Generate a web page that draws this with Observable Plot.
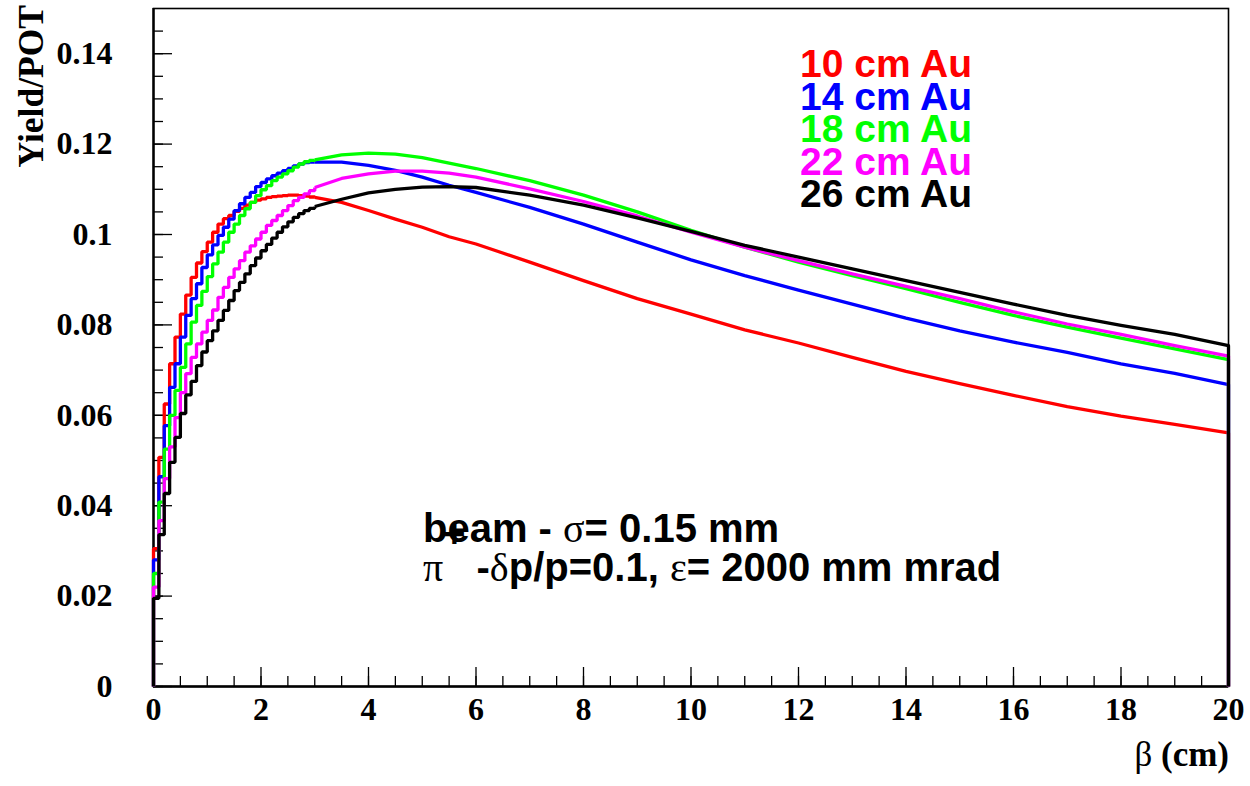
<!DOCTYPE html>
<html>
<head>
<meta charset="utf-8">
<script src="https://cdn.jsdelivr.net/npm/d3@7"></script>
<script src="https://cdn.jsdelivr.net/npm/@observablehq/plot@0.6"></script>
<style>
  html, body { margin: 0; padding: 0; background: #fff; }
  #chart { width: 1250px; height: 786px; }
</style>
</head>
<body>
<div id="chart"></div>
<script>
// ---------------- data ----------------
const seriesNames = ["10 cm Au", "14 cm Au", "18 cm Au", "22 cm Au", "26 cm Au"];
const seriesColors = ["#ff0000", "#0000ff", "#00ff00", "#ff00ff", "#000000"];

// histogram bin width (cm) for the fine-binned rising part
const binWidth = 0.1;

// bin contents, bins 0..29 (β = 0 .. 3 cm)
const red_bins = [0.0305, 0.0507, 0.0625, 0.0714, 0.0773, 0.0824, 0.0866, 0.0905, 0.0937, 0.0962,
                  0.0983, 0.1005, 0.1023, 0.1035, 0.1042, 0.1051, 0.1058, 0.1065, 0.1071, 0.1076,
                  0.1079, 0.1082, 0.1084, 0.1085, 0.1086, 0.1087, 0.1087, 0.1086, 0.1085, 0.1083];
const blue_bins = [0.0280, 0.0464, 0.0577, 0.0662, 0.0714, 0.0773, 0.0821, 0.0858, 0.0891, 0.0927,
                   0.0955, 0.0977, 0.0998, 0.1016, 0.1034, 0.1053, 0.1068, 0.1082, 0.1093, 0.1106,
                   0.1115, 0.1123, 0.1130, 0.1136, 0.1141, 0.1146, 0.1152, 0.1156, 0.1159, 0.1160];
const green_bins = [0.0250, 0.0408, 0.0525, 0.0600, 0.0655, 0.0706, 0.0758, 0.0806, 0.0843, 0.0874,
                    0.0907, 0.0935, 0.0961, 0.0983, 0.1005, 0.1023, 0.1042, 0.1057, 0.1071, 0.1086,
                    0.1099, 0.1108, 0.1119, 0.1127, 0.1134, 0.1141, 0.1149, 0.1156, 0.1161, 0.1164];
const magenta_bins = [0.0220, 0.0367, 0.0460, 0.0530, 0.0595, 0.0650, 0.0692, 0.0728, 0.0758, 0.0784,
                      0.0810, 0.0833, 0.0861, 0.0883, 0.0905, 0.0924, 0.0942, 0.0961, 0.0975, 0.0990,
                      0.1005, 0.1020, 0.1031, 0.1042, 0.1053, 0.1064, 0.1075, 0.1082, 0.1090, 0.1097];
const black_bins = [0.0195, 0.0336, 0.0427, 0.0496, 0.0551, 0.0604, 0.0645, 0.0675, 0.0710, 0.0740,
                    0.0765, 0.0787, 0.0810, 0.0832, 0.0854, 0.0876, 0.0894, 0.0913, 0.0931, 0.0948,
                    0.0964, 0.0978, 0.0992, 0.1005, 0.1017, 0.1028, 0.1038, 0.1046, 0.1053, 0.1058];

// smooth tail sampled at these β values (cm)
const tailBeta = [3, 3.5, 4, 4.5, 5, 5.5, 6, 7, 8, 9, 10, 11, 12, 13, 14, 15, 16, 17, 18, 19, 20];
const red_tail     = [0.1082, 0.1071, 0.1053, 0.1034, 0.1016, 0.0995, 0.0979, 0.0939, 0.0898, 0.0858, 0.0824,
                      0.0789, 0.0760, 0.0728, 0.0697, 0.0670, 0.0644, 0.0619, 0.0598, 0.0580, 0.0561];
const blue_tail    = [0.1160, 0.1160, 0.1153, 0.1142, 0.1127, 0.1109, 0.1093, 0.1060, 0.1023, 0.0983, 0.0944,
                      0.0909, 0.0877, 0.0846, 0.0815, 0.0787, 0.0762, 0.0739, 0.0714, 0.0693, 0.0668];
const green_tail   = [0.1165, 0.1176, 0.1180, 0.1178, 0.1170, 0.1158, 0.1146, 0.1119, 0.1087, 0.1050, 0.1009,
                      0.0972, 0.0939, 0.0909, 0.0880, 0.0850, 0.0821, 0.0795, 0.0771, 0.0747, 0.0723];
const magenta_tail = [0.1104, 0.1124, 0.1134, 0.1140, 0.1140, 0.1136, 0.1127, 0.1101, 0.1073, 0.1041, 0.1005,
                      0.0972, 0.0942, 0.0913, 0.0885, 0.0858, 0.0829, 0.0802, 0.0779, 0.0754, 0.0731];
const black_tail   = [0.1062, 0.1078, 0.1092, 0.1100, 0.1105, 0.1106, 0.1104, 0.1087, 0.1065, 0.1037, 0.1007,
                      0.0976, 0.0950, 0.0924, 0.0898, 0.0872, 0.0846, 0.0821, 0.0799, 0.0779, 0.0754];

const allBins = [red_bins, blue_bins, green_bins, magenta_bins, black_bins];
const allTails = [red_tail, blue_tail, green_tail, magenta_tail, black_tail];

// axes
const xDomain = [0, 20];
const yDomain = [0, 0.15];
const xTickValues = [0, 2, 4, 6, 8, 10, 12, 14, 16, 18, 20];
const xTickLabels = ["0", "2", "4", "6", "8", "10", "12", "14", "16", "18", "20"];
const yTickValues = [0, 0.02, 0.04, 0.06, 0.08, 0.1, 0.12, 0.14];
const yTickLabels = ["0", "0.02", "0.04", "0.06", "0.08", "0.1", "0.12", "0.14"];
const xMinorStep = 0.5;
const yMinorStep = 0.005;
const xTitle = "(cm)";
const yTitle = "Yield/POT";

// ---------------- build ----------------
const xMinor = d3.range(xDomain[0], xDomain[1] + 1e-9, xMinorStep);
const yMinor = d3.range(yDomain[0], yDomain[1] - 1e-9, yMinorStep);

const stepData = [], tailData = [];
seriesNames.forEach((name, s) => {
  stepData.push({s, x: xDomain[0], y: 0});
  allBins[s].forEach((v, i) => stepData.push({s, x: xDomain[0] + i * binWidth, y: v}));
  stepData.push({s, x: tailBeta[0], y: allTails[s][0]});
  allTails[s].forEach((v, i) => tailData.push({s, x: tailBeta[i], y: v}));
  tailData.push({s, x: xDomain[1], y: 0});
});

const tickFont = {fontFamily: "Liberation Serif", fontWeight: "bold", fontSize: 32};

const marks = [
  Plot.frame({stroke: "black", strokeWidth: 1.6}),
  Plot.ruleX([xDomain[0]], {stroke: "black", strokeWidth: 2.4}),
  Plot.ruleY([yDomain[0]], {stroke: "black", strokeWidth: 2.4}),
  // ticks (inward)
  Plot.axisX(xMinor, {tickSize: -10, tickFormat: () => "", strokeWidth: 1.3, label: null}),
  Plot.axisX(xTickValues, {tickSize: -19, tickFormat: () => "", strokeWidth: 1.3, label: null}),
  Plot.axisY(yMinor, {tickSize: -10, tickFormat: () => "", strokeWidth: 1.3, label: null}),
  Plot.axisY(yTickValues, {tickSize: -19, tickFormat: () => "", strokeWidth: 1.3, label: null}),
  // tick labels
  Plot.axisX(xTickValues, {tickSize: 0, tickPadding: 11, label: null,
    tickFormat: (d) => xTickLabels[xTickValues.indexOf(d)], ...tickFont}),
  Plot.axisY(yTickValues, {tickSize: 0, tickPadding: 41, label: null,
    tickFormat: (d) => yTickLabels[yTickValues.indexOf(d)], ...tickFont})
];

seriesNames.forEach((name, s) => {
  marks.push(Plot.line(stepData.filter(d => d.s === s), {
    x: "x", y: "y", curve: "step-after", stroke: seriesColors[s], strokeWidth: 3.3,
    strokeLinejoin: "miter", strokeLinecap: "butt"
  }));
  marks.push(Plot.line(tailData.filter(d => d.s === s), {
    x: "x", y: "y", curve: "linear", stroke: seriesColors[s], strokeWidth: 3.3,
    strokeLinejoin: "round", strokeLinecap: "butt"
  }));
});

const plot = Plot.plot({
  width: 1250,
  height: 786,
  marginLeft: 153,
  marginRight: 22,
  marginTop: 8,
  marginBottom: 100,
  style: {background: "white", overflow: "visible"},
  x: {domain: xDomain},
  y: {domain: yDomain},
  marks
});

document.getElementById("chart").appendChild(plot);

// ---------------- texts ----------------
const svg = d3.select(plot);

// y title
svg.append("text")
  .attr("transform", "translate(43,5) rotate(-90)")
  .attr("text-anchor", "end")
  .attr("font-family", "Liberation Serif")
  .attr("font-weight", "bold")
  .attr("font-size", 35.5)
  .attr("fill", "black")
  .text(yTitle);

// x title
const xt = svg.append("text")
  .attr("x", 1229).attr("y", 766)
  .attr("text-anchor", "end")
  .attr("font-family", "Liberation Serif")
  .attr("font-weight", "bold")
  .attr("font-size", 35)
  .attr("fill", "black");
xt.append("tspan").attr("font-weight", "normal").text("β ");
xt.append("tspan").text(xTitle);

// legend
seriesNames.forEach((name, s) => {
  svg.append("text")
    .attr("x", 800).attr("y", 77 + s * 32.5)
    .attr("text-anchor", "start")
    .attr("font-family", "Liberation Sans")
    .attr("font-weight", "bold")
    .attr("font-size", 39)
    .attr("fill", seriesColors[s])
    .text(name);
});

// annotation
const annFont = (t) => t.attr("text-anchor", "start").attr("font-family", "Liberation Sans")
  .attr("font-weight", "bold").attr("font-size", 40).attr("fill", "black");
const l1 = annFont(svg.append("text").attr("x", 423).attr("y", 542));
l1.append("tspan").text("beam - ");
l1.append("tspan").attr("font-family", "Liberation Serif").attr("font-weight", "normal").text("σ");
l1.append("tspan").text("= 0.15 mm");

const l2 = annFont(svg.append("text").attr("x", 423).attr("y", 581));
l2.append("tspan").attr("font-family", "Liberation Serif").attr("font-weight", "normal").text("π");
l2.append("tspan").attr("dy", -34).attr("font-size", 38).text("+");
l2.append("tspan").attr("dy", 34).text(" -");
l2.append("tspan").attr("font-family", "Liberation Serif").attr("font-weight", "normal").text("δ");
l2.append("tspan").text("p/p=0.1, ");
l2.append("tspan").attr("font-family", "Liberation Serif").attr("font-weight", "normal").text("ε");
l2.append("tspan").text("= 2000 mm mrad");
</script>
</body>
</html>
